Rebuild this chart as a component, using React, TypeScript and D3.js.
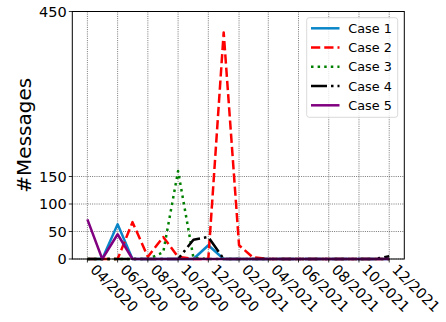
import React from "react";
import * as d3 from "d3";

const months = [
  "2020-04", "2020-05", "2020-06", "2020-07", "2020-08", "2020-09", "2020-10",
  "2020-11", "2020-12", "2021-01", "2021-02", "2021-03", "2021-04", "2021-05",
  "2021-06", "2021-07", "2021-08", "2021-09", "2021-10", "2021-11", "2021-12",
];
const case1 = [0, 0, 63, 0, 0, 0, 0, 0, 25, 0, 0, 0, 0, 0, 0, 0, 0, 0, 0, 0, 0];
const case2 = [0, 0, 0, 67, 4, 40, 4, 0, 0, 412, 25, 3, 0, 0, 0, 0, 0, 0, 0, 0, 0];
const case3 = [0, 0, 0, 0, 0, 12, 160, 2, 0, 0, 0, 0, 0, 0, 0, 0, 0, 0, 0, 0, 0];
const case4 = [0, 0, 0, 0, 0, 0, 0, 35, 40, 0, 0, 0, 0, 0, 0, 0, 0, 0, 0, 0, 5];
const case5 = [72, 0, 45, 0, 0, 0, 0, 0, 0, 0, 0, 0, 0, 0, 0, 0, 0, 0, 0, 0, 0];
const seriesNames = ["Case 1", "Case 2", "Case 3", "Case 4", "Case 5"];
const yTicks = [0, 50, 100, 150, 450];
const xTickLabels = [
  "04/2020", "06/2020", "08/2020", "10/2020", "12/2020", "02/2021",
  "04/2021", "06/2021", "08/2021", "10/2021", "12/2021",
];

const seriesValues = [case1, case2, case3, case4, case5];
const colors = ["#0a86c8", "#ff0000", "#008000", "#000000", "#800080"];
const dashes = [null, "9.25,4", "2.5,4.1", "16,4,2.5,4", null];

const W = 446, H = 322;
const left = 72.3, right = 404.3, top = 11.5, bottom = 259;
const FONT = "'DejaVu Sans', sans-serif";

export default function App() {
  const parse = d3.timeParse("%Y-%m");
  const dates = months.map((m) => parse(m) as Date);
  const t0 = +dates[0], t1 = +dates[dates.length - 1];
  const pad = (t1 - t0) * 0.05;
  const x = d3.scaleTime().domain([new Date(t0 - pad), new Date(t1 + pad)]).range([left, right]);
  const y = d3.scaleLinear().domain([0, 450]).range([bottom, top]);
  const tickDates = xTickLabels.map((l) => d3.timeParse("%m/%Y")(l) as Date);
  const line = d3.line<number>().x((_, i) => x(dates[i])).y((v) => y(v));

  return (
    <svg width={W} height={H} style={{ position: "absolute", left: 0, top: 0, background: "#fff" }} fontFamily={FONT}>
      <rect x={0} y={0} width={W} height={H} fill="#fff" />
      {/* grid */}
      {tickDates.map((d, i) => (
        <line key={"gx" + i} x1={x(d)} x2={x(d)} y1={top} y2={bottom} stroke="#555" strokeWidth={0.8} strokeDasharray="1,1.2" />
      ))}
      {yTicks.map((v, i) => (
        <line key={"gy" + i} x1={left} x2={right} y1={y(v)} y2={y(v)} stroke="#555" strokeWidth={0.8} strokeDasharray="1,1.2" />
      ))}
      {/* lines */}
      <g clipPath="url(#clip)">
        {seriesValues.map((vals, i) => (
          <path key={"s" + i} d={line(vals) || ""} fill="none" stroke={colors[i]} strokeWidth={2.5}
            strokeDasharray={dashes[i] || undefined} strokeLinejoin="round" />
        ))}
      </g>
      <defs>
        <clipPath id="clip"><rect x={left} y={top - 2} width={right - left} height={bottom - top + 4} /></clipPath>
      </defs>
      {/* frame */}
      <rect x={left} y={top} width={right - left} height={bottom - top} fill="none" stroke="#000" strokeWidth={1} />
      {/* y ticks */}
      {yTicks.map((v, i) => (
        <g key={"yt" + i}>
          <line x1={left - 3.5} x2={left} y1={y(v)} y2={y(v)} stroke="#000" strokeWidth={0.8} />
          <text x={left - 5.5} y={y(v)} dy="0.36em" textAnchor="end" fontSize={14.5} fill="#000">{v}</text>
        </g>
      ))}
      {/* x ticks */}
      {tickDates.map((d, i) => (
        <g key={"xt" + i}>
          <line x1={x(d)} x2={x(d)} y1={bottom} y2={bottom + 3.5} stroke="#000" strokeWidth={0.8} />
          <text transform={`translate(${x(d) + 2},${bottom + 11.5}) rotate(45)`} textAnchor="start" fontSize={14.5} fill="#000">{xTickLabels[i]}</text>
        </g>
      ))}
      {/* y label */}
      <text transform={`translate(31,${(top + bottom) / 2}) rotate(-90)`} textAnchor="middle" fontSize={20} fill="#000">#Messages</text>
      {/* legend */}
      <rect x={306.7} y={17.7} width={91} height={99.6} rx={2.5} fill="#fff" fillOpacity={0.8} stroke="#d0d0d0" strokeWidth={0.8} />
      {seriesNames.map((name, i) => {
        const ly = 28.3 + i * 19.25;
        return (
          <g key={"lg" + i}>
            <line x1={311} x2={339.5} y1={ly} y2={ly} stroke={colors[i]} strokeWidth={2.5} strokeDasharray={dashes[i] || undefined} />
            <text x={348.3} y={ly} dy="0.36em" fontSize={12.8} fill="#000">{name}</text>
          </g>
        );
      })}
    </svg>
  );
}
